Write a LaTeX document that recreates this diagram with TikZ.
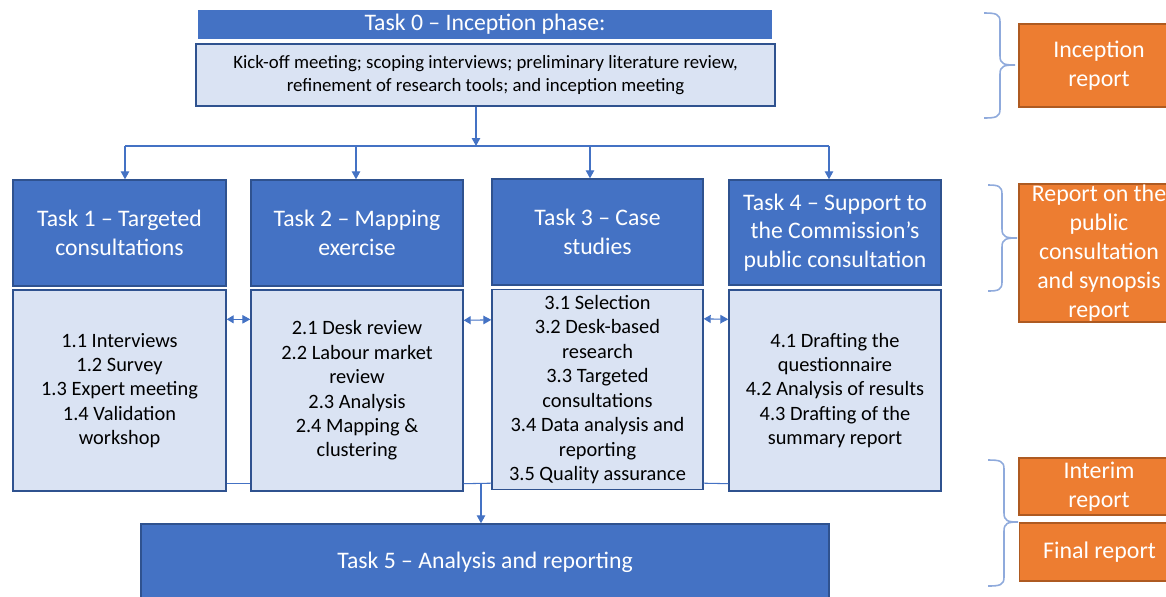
\documentclass[tikz,border=0pt]{standalone}
\usepackage{fontspec}
\setmainfont{Carlito}
\usetikzlibrary{arrows.meta,calc}
\usepackage{xcolor}
\definecolor{taskblue}{HTML}{4472C4}
\definecolor{taskline}{HTML}{2F528F}
\definecolor{subfill}{HTML}{DAE3F3}
\definecolor{repfill}{HTML}{ED7D31}
\definecolor{repline}{HTML}{AE5A21}
\definecolor{bracecol}{HTML}{8FAADC}

\begin{document}
\begin{tikzpicture}[x=0.02cm, y=-0.02cm,
	head/.style={draw=taskline, line width=0.8pt, fill=taskblue, text=white, align=center, inner sep=0pt, font=\fontsize{13.5}{16.4}\selectfont},
	sub/.style={draw=taskline, line width=0.8pt, fill=subfill, align=center, inner sep=0pt, font=\fontsize{11.6}{13.9}\selectfont},
	rep/.style={draw=repline, line width=0.8pt, fill=repfill, text=white, align=center, inner sep=0pt, minimum width=3.2cm, font=\fontsize{13.6}{16.4}\selectfont},
	link/.style={draw=taskblue, line width=0.6pt},
	brc/.style={draw=bracecol, line width=0.9pt}]
	\useasboundingbox (0,0) rectangle (1166,596);
	\node (t0h) [head, minimum width=11.52cm, minimum height=0.62cm, draw=white] at (485, 24.5) {Task 0 – Inception phase:};
	\node (t0b) [sub, minimum width=11.58cm, minimum height=1.24cm, font=\fontsize{10.7}{13}\selectfont] at (485.5, 75) {Kick-off meeting; scoping interviews; preliminary literature review,\\refinement of research tools; and inception meeting};
	\node (h1) [head, minimum width=4.26cm, minimum height=2.12cm] at (119.5, 233) {Task 1 – Targeted\\consultations};
	\node (h2) [head, minimum width=4.24cm, minimum height=2.12cm] at (357, 233) {Task 2 – Mapping\\exercise};
	\node (h3) [head, minimum width=4.22cm, minimum height=2.12cm] at (597.5, 232) {Task 3 – Case\\studies};
	\node (h4) [head, minimum width=4.24cm, minimum height=2.1cm] at (835, 232.5) {Task 4 – Support to\\the Commission’s\\public consultation};
	\node (b1) [sub, minimum width=4.26cm, minimum height=4.02cm] at (119.5, 390.5) {1.1 Interviews\\1.2 Survey\\1.3 Expert meeting\\1.4 Validation\\workshop};
	\node (b2) [sub, minimum width=4.24cm, minimum height=4.02cm] at (357, 390.5) {2.1 Desk review\\2.2 Labour market\\review\\2.3 Analysis\\2.4 Mapping \&\\clustering};
	\node (b3) [sub, minimum width=4.22cm, minimum height=4cm] at (597.5, 389.5) {3.1 Selection\\3.2 Desk-based\\research\\3.3 Targeted\\consultations\\3.4 Data analysis and\\reporting\\3.5 Quality assurance};
	\node (b4) [sub, minimum width=4.24cm, minimum height=4.02cm] at (835, 390.5) {4.1 Drafting the\\questionnaire\\4.2 Analysis of results\\4.3 Drafting of the\\summary report};
	\node (t5) [head, minimum width=13.76cm, minimum height=1.52cm] at (485, 562) {Task 5 – Analysis and reporting};
	\node (ir) [rep, minimum height=1.66cm] at (1099, 65.5) {Inception\\report};
	\node (pc) [rep, minimum height=2.76cm] at (1099, 253) {Report on the\\public\\consultation\\and synopsis\\report};
	\node (im) [rep, minimum height=1.14cm] at (1099, 486.5) {Interim\\report};
	\node (fr) [rep, minimum height=1.16cm] at (1099.5, 552) {Final report};
	\coordinate (j) at (476, 146);
	\coordinate (j1) at (125, 146);
	\coordinate (j2) at (356, 146);
	\coordinate (j3) at (590, 146);
	\coordinate (j4) at (829, 146);
	\coordinate (k) at (481, 483);
	\draw[link, -{Triangle[length=1.6mm, width=1.7mm]}] (t0b.south -| j) -- (j);
	\draw[link] (j1) -- (j4);
	\draw[link, -{Triangle[length=1.6mm, width=1.7mm]}] (j1) -- (j1 |- h1.north);
	\draw[link, -{Triangle[length=1.6mm, width=1.7mm]}] (j2) -- (j2 |- h2.north);
	\draw[link, -{Triangle[length=1.6mm, width=1.7mm]}] (j3) -- (j3 |- h3.north);
	\draw[link, -{Triangle[length=1.6mm, width=1.7mm]}] (j4) -- (j4 |- h4.north);
	\draw[link, {Triangle[length=1.4mm, width=1.6mm]}-{Triangle[length=1.6mm, width=1.7mm]}] ($(b1.north east)+(0,30)$) -- ($(b2.north west)+(0,30)$);
	\draw[link, {Triangle[length=1.4mm, width=1.6mm]}-{Triangle[length=1.6mm, width=1.7mm]}] ($(b2.north east)+(0,31)$) -- ($(b3.north west)+(0,31)$);
	\draw[link, {Triangle[length=1.4mm, width=1.6mm]}-{Triangle[length=1.6mm, width=1.7mm]}] ($(b3.north east)+(0,30)$) -- ($(b4.north west)+(0,30)$);
	\draw[link] ($(b1.south east)+(0,-8)$) -- ($(b2.south west)+(0,-8)$);
	\draw[link] ($(b2.south east)+(0,-8)$) -- ($(b3.south west)+(0,-7)$);
	\draw[link] ($(b3.south east)+(0,-7)$) -- ($(b4.south west)+(0,-8)$);
	\draw[link, -{Triangle[length=1.6mm, width=1.7mm]}] (k) -- (k |- t5.north);
	\draw[brc] (984,13) .. controls (996,13) and (1000,14) .. (1000,22) -- (1000,56) .. controls (1000,64) and (1004,65) .. (1015,65) .. controls (1004,65) and (1000,66) .. (1000,74) -- (1000,109) .. controls (1000,117) and (996,118) .. (984,118);
	\draw[brc] (988,185) .. controls (998,185) and (1002,186) .. (1002,194) -- (1002,229) .. controls (1002,237) and (1006,238) .. (1017,238) .. controls (1006,238) and (1002,239) .. (1002,247) -- (1002,282) .. controls (1002,290) and (998,291) .. (988,291);
	\draw[brc] (988,460) .. controls (1000,460) and (1004,461) .. (1004,469) -- (1004,513) .. controls (1004,521) and (1008,522) .. (1018,522) .. controls (1008,522) and (1004,523) .. (1004,531) -- (1004,577) .. controls (1004,585) and (1000,586) .. (988,586);
\end{tikzpicture}
\end{document}
